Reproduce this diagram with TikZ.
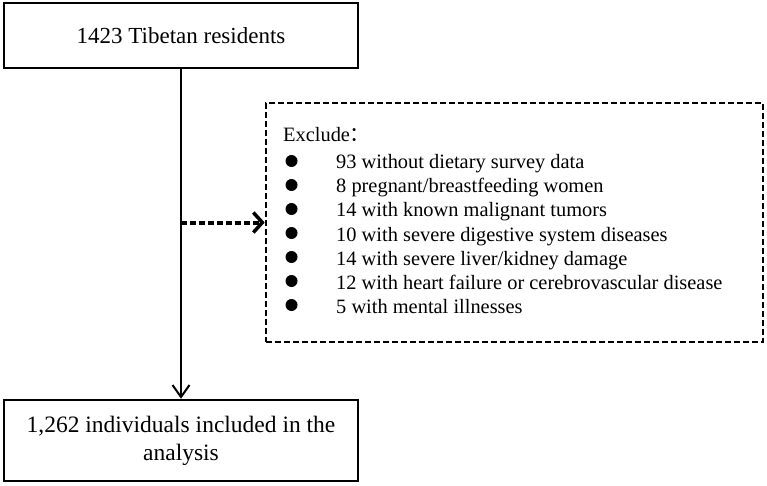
\documentclass[tikz,border=0pt]{standalone}
\usepackage{fontspec}
\setmainfont{Liberation Serif}
\newfontfamily\cjk{Noto Sans CJK SC}
\usetikzlibrary{arrows.meta}
\begin{document}
\begin{tikzpicture}[x=1pt,y=-1pt,
  box/.style={draw, line width=2.5pt, inner sep=0pt, minimum width=354pt},
  dbox/.style={draw, line width=2.6pt, dash pattern=on 6pt off 3pt, inner sep=0pt},
  bul/.style={circle, fill, inner sep=0pt, minimum size=12pt},
  itemtxt/.style={anchor=base west, inner sep=0pt, font=\fontsize{20.4}{24}\selectfont},
  mainarrow/.style={line width=2pt, -{Straight Barb[length=12pt,width=17pt,line width=2pt]}},
  dotarrow/.style={line width=4pt, dash pattern=on 6pt off 3pt, -{Straight Barb[length=9pt,width=20pt,line width=3.5pt]}}
]
\useasboundingbox (0,0) rectangle (767,486);
\node[box, minimum height=65pt, font=\fontsize{23}{27}\selectfont] (top) at (181,35.5) {1423 Tibetan residents};
\node[box, minimum height=81pt, align=center, font=\fontsize{23.5}{28}\selectfont] (bot) at (181,440.5) {1,262 individuals included in the\\analysis};
\node[dbox, minimum width=497pt, minimum height=239pt] (ex) at (514.5,222.5) {};
\node[itemtxt] (exh) at (283,142) {Exclude\hspace{-0.5pt}{\cjk ：}};
\foreach \k/\t in {1/{93 without dietary survey data},
                   2/{8 pregnant/breastfeeding women},
                   3/{14 with known malignant tumors},
                   4/{10 with severe digestive system diseases},
                   5/{14 with severe liver/kidney damage},
                   6/{12 with heart failure or cerebrovascular disease},
                   7/{5 with mental illnesses}}{
  \node[bul] (b\k) at (291.5,{161+24*(\k-1)}) {};
  \node[itemtxt] (i\k) at (336,{169+24*(\k-1)}) {\t};
}
\draw[mainarrow] (top.south) -- (bot.north);
\coordinate (m) at (181,222.5);
\draw[dotarrow] (m) -- (ex.west);
\end{tikzpicture}
\end{document}
